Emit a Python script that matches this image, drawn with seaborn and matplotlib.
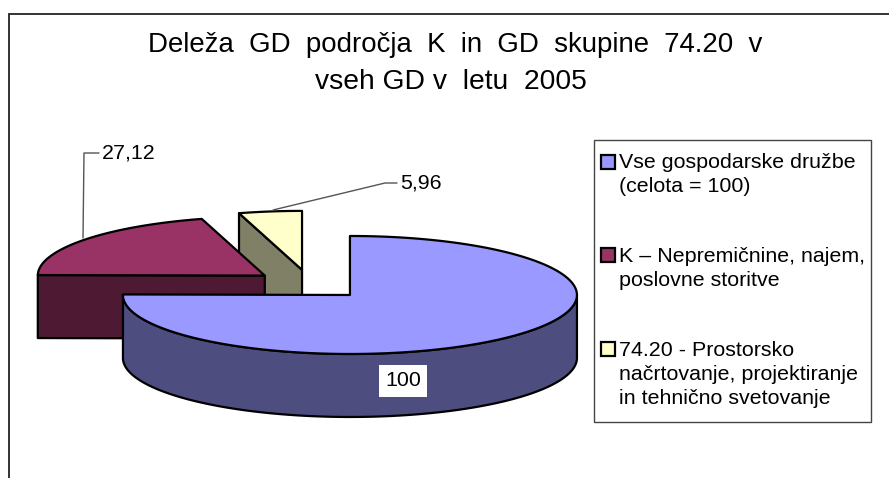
import numpy as np
import pandas as pd
import seaborn as sns
from matplotlib import pyplot as plt
from matplotlib.patches import Rectangle

# Chart data
slice_names = ['Vse gospodarske družbe\n(celota = 100)',
               'K – Nepremičnine, najem,\nposlovne storitve',
               '74.20 - Prostorsko\nnačrtovanje, projektiranje\nin tehnično svetovanje']
slice_values = [100, 27.12, 5.96]
value_labels = ['100', '27,12', '5,96']
top_colors = ['#9999FF', '#993366', '#FFFFCC']
side_colors = ['#4D4D80', '#4D1933', '#808066']

df = pd.DataFrame({'name': slice_names, 'value': slice_values})
df['sweep'] = df['value'] / df['value'].sum() * 360
df['start'] = df['sweep'].cumsum().shift(fill_value=0)
df['end'] = df['start'] + df['sweep']

sns.set_theme(style='white')
plt.rcParams['font.family'] = ['Liberation Sans', 'DejaVu Sans']

fig = plt.figure(figsize=(8.89, 4.78), dpi=100)
ax = fig.add_axes([0, 0, 1, 1])
# Axes work in image pixels, y going down
ax.set_xlim(0, 889)
ax.set_ylim(478, 0)
ax.axis('off')

# Pie geometry
cx, cy = 310, 284.5
rx, ry = 227, 59
depth = 63
explode = 0.25
lw = 1.6
font_size = 15.4


def rim(a, b, x0, y0):
    t = np.radians(np.linspace(a, b, 200))
    return x0 + rx * np.sin(t), y0 - ry * np.cos(t)


def extrude(xs, ys, color):
    px = np.r_[xs, xs[::-1]]
    py = np.r_[ys, ys[::-1] + depth]
    ax.fill(px, py, facecolor=color, edgecolor='black', lw=lw, joinstyle='round')


# Chart frame, only the top and left sides are in the picture
ax.plot([8.5, 889], [14, 14], color='#333333', lw=1.4)
ax.plot([8.5, 8.5], [14, 478], color='#333333', lw=1.4)

# Back slices first so that the blue one lands on top
for i in [2, 1, 0]:
    a, b = df.loc[i, 'start'], df.loc[i, 'end']
    mid = np.radians((a + b) / 2)
    x0 = cx + explode * rx * np.sin(mid)
    y0 = cy - explode * ry * np.cos(mid)
    xs, ys = rim(a, b, x0, y0)

    # Cut faces that look towards the viewer
    if np.sin(np.radians(a)) < -1e-6:
        extrude(np.array([x0, xs[0]]), np.array([y0, ys[0]]), side_colors[i])
    if np.sin(np.radians(b)) > 1e-6:
        extrude(np.array([x0, xs[-1]]), np.array([y0, ys[-1]]), side_colors[i])
    # Outer wall, front half only
    lo, hi = max(a, 90), min(b, 270)
    if hi > lo:
        wx, wy = rim(lo, hi, x0, y0)
        extrude(wx, wy, side_colors[i])

    ax.fill(np.r_[x0, xs], np.r_[y0, ys], facecolor=top_colors[i],
            edgecolor='black', lw=lw, joinstyle='round')

# Value labels
ax.text(403, 381, value_labels[0], ha='center', va='center', fontsize=font_size, color='black',
        bbox=dict(facecolor='white', edgecolor='none', pad=4.5))
ax.plot([83, 84, 99], [238, 153, 153], color='#555555', lw=1)
ax.text(102, 153, value_labels[1], ha='left', va='center', fontsize=font_size, color='black')
ax.plot([273, 385, 397], [210, 183, 183], color='#555555', lw=1)
ax.text(400, 183, value_labels[2], ha='left', va='center', fontsize=font_size, color='black')

# Title
ax.text(455, 45, 'Deleža  GD  področja  K  in  GD  skupine  74.20  v', ha='center', va='center',
        fontsize=19.9, color='black')
ax.text(451, 82, 'vseh GD v  letu  2005', ha='center', va='center', fontsize=20.3, color='black')

# Legend
ax.add_patch(Rectangle((593.5, 139.5), 277, 283, facecolor='white', edgecolor='#444444', lw=1))
legend_y = [155, 248, 342]
line_y = [[162, 187], [257, 281], [350, 375, 399]]
for i, name in enumerate(df['name']):
    ax.add_patch(Rectangle((601, legend_y[i]), 14, 14, facecolor=top_colors[i],
                           edgecolor='black', lw=lw))
    for line, y in zip(name.split('\n'), line_y[i]):
        ax.text(619, y, line, ha='left', va='center', fontsize=font_size, color='black')

fig.savefig('out.png', dpi=100)
